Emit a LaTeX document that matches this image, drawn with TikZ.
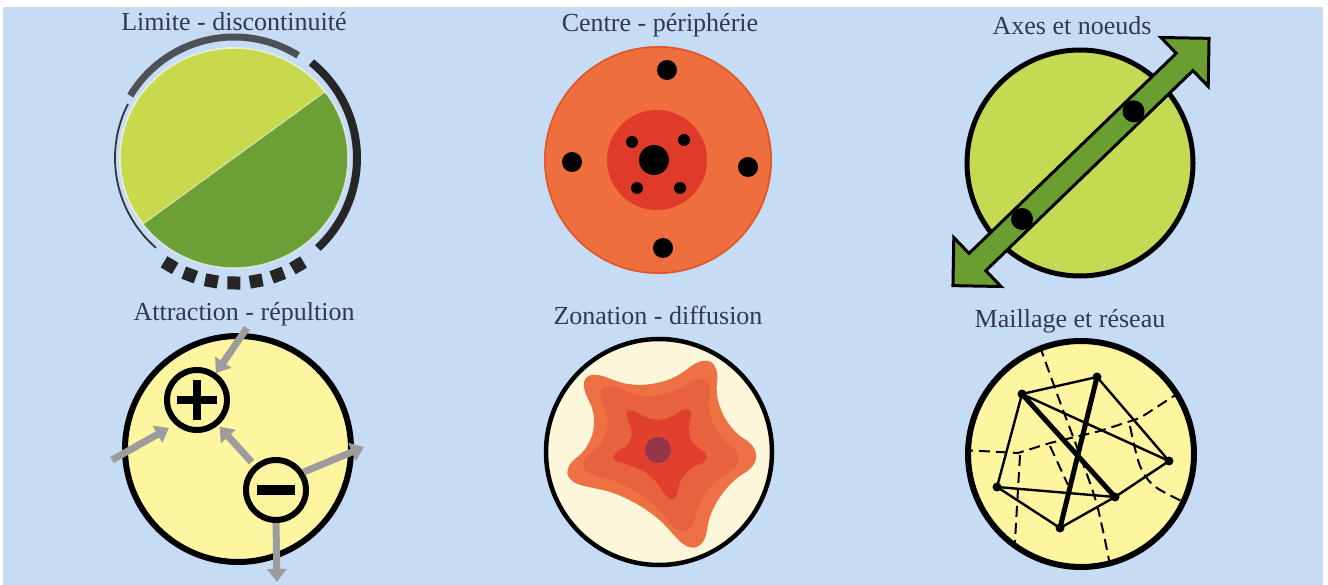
\documentclass[tikz,border=0pt]{standalone}
\usepackage{fontspec}
\setmainfont{Liberation Serif}
\usetikzlibrary{arrows.meta,calc}
\definecolor{bgblue}{HTML}{C6DCF4}
\definecolor{txt}{HTML}{2F3A4D}
\definecolor{lgreen}{HTML}{C9D94E}
\definecolor{dgreen}{HTML}{6C9F35}
\definecolor{axfill}{HTML}{C3DA52}
\definecolor{axgreen}{HTML}{6A9E30}
\definecolor{orout}{HTML}{EE6E3E}
\definecolor{oredge}{HTML}{D95830}
\definecolor{orin}{HTML}{DF3A2A}
\definecolor{pale}{HTML}{FDF5A0}
\definecolor{cream}{HTML}{FCF7DA}
\definecolor{stA}{HTML}{EE7146}
\definecolor{stB}{HTML}{E9623E}
\definecolor{stC}{HTML}{E2402E}
\definecolor{stdot}{HTML}{943549}
\definecolor{arrgray}{HTML}{9C9C9C}
\definecolor{arcgray}{HTML}{4E5058}
\begin{document}
\begin{tikzpicture}[x=1pt,y=1pt,
  title/.style={anchor=base, text=txt, font=\fontsize{26}{30}\selectfont, inner sep=0pt},
  gar/.style={draw=arrgray, line width=7pt, -{Triangle[length=13pt,width=19pt]}},
  mesh/.style={line width=2pt, dash pattern=on 11pt off 6pt},
  edgeln/.style={line width=2.4pt, line cap=round},
  boldln/.style={line width=5pt, line cap=round},
  vert/.style={circle, fill=black, inner sep=0pt, minimum size=9pt},
  sign/.style={circle, draw=black, line width=6pt, minimum size=60pt, inner sep=0pt}
]
\useasboundingbox (0,0) rectangle (1328,-585);
\fill[white] (0,0) rectangle (1328,-585);
\fill[bgblue] (3,-7) rectangle (1323,-585);

% ---------- titles
\node[title] (t1) at (234,-31) {Limite - discontinuité};
\node[title] (t2) at (660,-32) {Centre - périphérie};
\node[title] (t3) at (1072,-35) {Axes et noeuds};
\node[title] (t4) at (244,-320) {Attraction - répultion};
\node[title] (t5) at (658,-325) {Zonation - diffusion};
\node[title] (t6) at (1070,-327) {Maillage et réseau};

% ---------- panel 1 : limite
\coordinate (c1) at (234,-158);
\begin{scope}
  \clip (c1) ellipse [x radius=114, y radius=110];
  \begin{scope}[shift={(c1)}, rotate=36]
    \fill[lgreen] (-140,0) rectangle (140,140);
    \fill[dgreen] (-140,0) rectangle (140,-140);
    \draw[white, opacity=0.5, line width=1.2pt] (-140,0) -- (140,0);
  \end{scope}
\end{scope}
\draw[white, opacity=0.6, line width=1.5pt] (c1) ellipse [x radius=114, y radius=110];
\draw[arcgray, line width=7pt] ($(c1)+(58:121)$) arc[start angle=58, end angle=149, radius=121];
\draw[black!85, line width=8pt] ($(c1)+(51:123)$) arc[start angle=51, end angle=-47, radius=123];
\draw[black!80, line width=1.8pt] ($(c1)+(153:119)$) arc[start angle=153, end angle=229, radius=119];
\foreach \a in {239,249.3,...,302}{
  \fill[black!85, shift={(c1)}, rotate=\a] (125,0) ++(-6.5,-6.5) rectangle ++(13,13);
}

% ---------- panel 2 : centre
\coordinate (c2) at (658,-160);
\fill[orout] (c2) circle (114);
\draw[oredge, line width=1.5pt] (c2) circle (113);
\fill[orin] (657,-160) circle (50);
\fill[black] (654,-160) circle (15);
\foreach \p in {(632,-142),(684,-140),(637,-188),(680,-188)}{\fill[black] \p circle (6);}
\foreach \p in {(667,-70),(572,-162),(748,-167),(663,-248)}{\fill[black] \p circle (10);}

% ---------- panel 3 : axes
\coordinate (c3) at (1080,-163);
\fill[axfill, draw=black, line width=5pt] (c3) circle (113);
\begin{scope}[shift={(1081,-162)}, rotate=44]
  \draw[fill=axgreen, line width=3pt, line join=miter]
    (178,0) -- (144,34) -- (144,12) -- (-144,12) -- (-144,34) -- (-178,0)
    -- (-144,-34) -- (-144,-12) -- (144,-12) -- (144,-34) -- cycle;
  \fill[black] (73,0) circle (11);
  \fill[black] (-82,0) circle (11);
\end{scope}

% ---------- panel 4 : attraction
\fill[pale, draw=black, line width=6pt] (238,-449) circle (113);
\node[sign] (plus) at (197,-400) {};
\node[sign] (minus) at (276,-490) {};
\draw[line width=8.5pt] ($(plus.center)+(-20,0)$) -- ($(plus.center)+(20,0)$);
\draw[line width=8.5pt] ($(plus.center)+(0,-20)$) -- ($(plus.center)+(0,20)$);
\draw[line width=10pt] ($(minus.center)+(-19,0)$) -- ($(minus.center)+(19,0)$);
\coordinate (a1) at (247,-328);
\coordinate (a2) at (112,-460);
\coordinate (a4) at (364,-447);
\coordinate (a5) at (277,-582);
\draw[gar] (a1) -- (plus.55);
\draw[gar, shorten >=7pt] (a2) -- (plus.228);
\draw[gar, shorten <=4pt, shorten >=2pt] (minus.131) -- (plus.-50);
\draw[gar] (minus.33) -- (a4);
\draw[gar] (minus.-90) -- (a5);

% ---------- panel 5 : zonation
\fill[cream, draw=black, line width=4.5pt] (659,-452) circle (113);
\begin{scope}[shift={(660,-450)}]
  \fill[stA, rounded corners=38pt] (136:124) -- (98:56) -- (60:122) -- (28:60) -- (-3:116)
    -- (-38:66) -- (-70:124) -- (-112:52) -- (194:116) -- (166:55) -- cycle;
  \begin{scope}[scale=0.82, rotate=-3]
  \fill[stB, rounded corners=31pt] (136:124) -- (98:56) -- (60:122) -- (28:60) -- (-3:116)
    -- (-38:66) -- (-70:124) -- (-112:52) -- (194:116) -- (166:55) -- cycle;
  \end{scope}
  \begin{scope}[scale=0.47, rotate=-6]
  \fill[stC, rounded corners=14pt] (136:124) -- (98:56) -- (60:122) -- (28:60) -- (-3:116)
    -- (-38:66) -- (-70:124) -- (-112:52) -- (194:116) -- (166:55) -- cycle;
  \end{scope}
  \fill[stdot] (-2,0) circle (13);
\end{scope}

% ---------- panel 6 : maillage
\coordinate (c6) at (1081,-454);
\fill[pale] (c6) circle (113);
\begin{scope}
  \clip (c6) circle (111);
  \draw[mesh] plot[smooth] coordinates {(1034,-330) (1060,-402) (1078,-450) (1097,-505) (1112,-575)};
  \draw[mesh] (962,-450) -- (1018,-453) -- (1050,-443) -- (1100,-431) -- (1140,-418) -- (1180,-392) -- (1205,-375);
  \draw[mesh] (1020,-455) -- (1013,-575);
  \draw[mesh] (1050,-446) -- (1068,-485);
  \draw[mesh] plot[smooth] coordinates {(1130,-426) (1140,-466) (1157,-488) (1205,-512)};
\end{scope}
\draw[black, line width=6pt] (c6) circle (113);
\node[vert] (A) at (1022,-394) {};
\node[vert] (B) at (1097,-377) {};
\node[vert] (C) at (1169,-461) {};
\node[vert] (D) at (1115,-497) {};
\node[vert] (E) at (1060,-528) {};
\node[vert] (F) at (997,-487) {};
\draw[edgeln] (A.center) -- (B.center) -- (C.center) -- (D.center) -- (E.center) -- (F.center) -- cycle;
\draw[edgeln] (A.center) -- (C.center);
\draw[edgeln] (F.center) -- (D.center);
\draw[boldln] (A.center) -- (D.center);
\draw[boldln] (B.center) -- (E.center);
\end{tikzpicture}
\end{document}
